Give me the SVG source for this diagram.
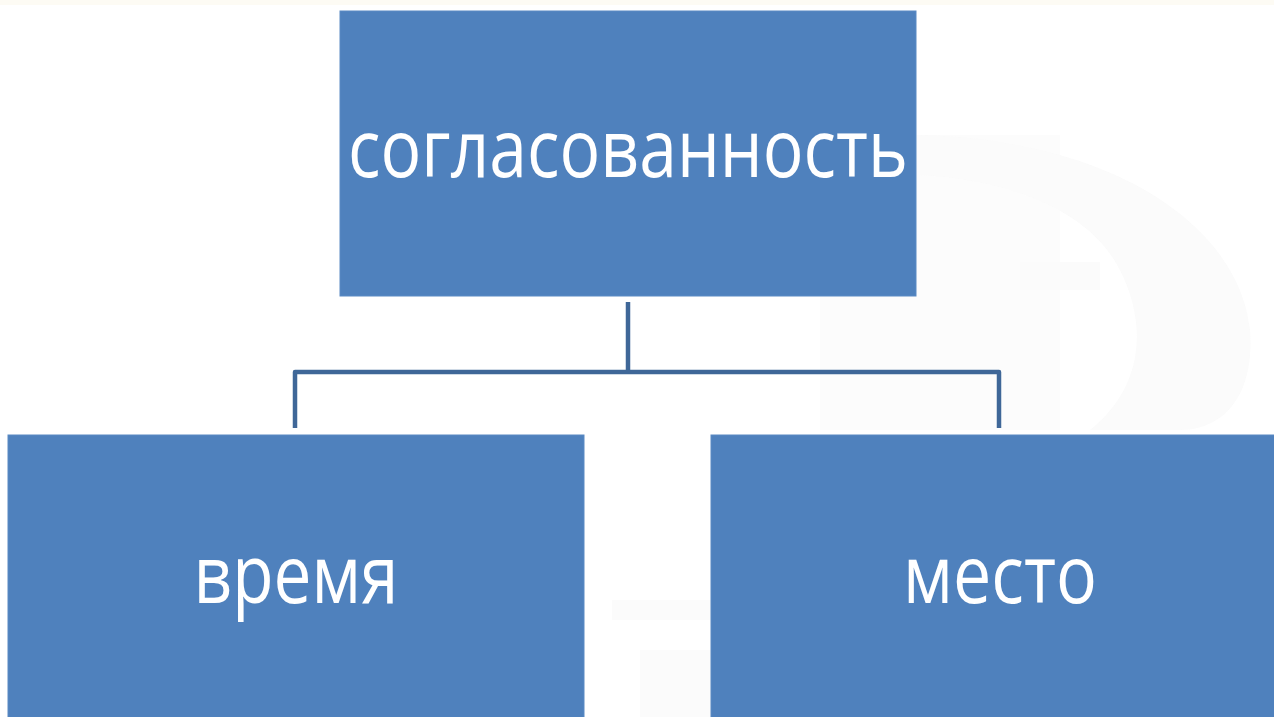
<svg xmlns="http://www.w3.org/2000/svg" width="1274" height="717" viewBox="0 0 1274 717">
<style>
.box{fill:#4f81bd;stroke:#5a8ac4;stroke-width:1}
.lbl{fill:#ffffff;font-family:"Open Sans","Noto Sans","Liberation Sans",sans-serif;text-anchor:middle}
.conn{fill:none;stroke:#3f6798;stroke-width:4.5;stroke-linejoin:round}
.wm{fill:#f5f5f5}
</style>
<rect x="0" y="0" width="1274" height="717" fill="#ffffff"/>
<g id="background" opacity="0.45">
<rect x="0" y="0" width="1274" height="5" fill="#faf6e6"/>
<rect class="wm" x="820" y="135" width="240" height="295" opacity="0.7"/>
<path class="wm" d="M920 135 C1120 140 1240 230 1250 330 C1255 400 1220 430 1180 430 L1090 430 C1140 390 1150 330 1120 270 C1090 210 1010 180 920 175 Z"/>
<rect class="wm" x="1020" y="262" width="80" height="28"/>
<rect class="wm" x="612" y="600" width="99" height="20"/>
<rect class="wm" x="640" y="650" width="71" height="67"/>
</g>
<g id="connectors">
<path class="conn" d="M628 302 V372"/>
<path class="conn" d="M295 428 V372 H999 V428"/>
</g>
<g id="node-top">
<rect class="box" x="340" y="11" width="576" height="285"/>
<text class="lbl" x="628" y="177" font-size="80" textLength="560" lengthAdjust="spacingAndGlyphs">согласованность</text>
</g>
<g id="node-left">
<rect class="box" x="8" y="435" width="576" height="290"/>
<text class="lbl" x="296" y="603" font-size="80" textLength="205" lengthAdjust="spacingAndGlyphs">время</text>
</g>
<g id="node-right">
<rect class="box" x="711" y="435" width="570" height="290"/>
<text class="lbl" x="1000" y="603" font-size="80" textLength="194" lengthAdjust="spacingAndGlyphs">место</text>
</g>
</svg>
